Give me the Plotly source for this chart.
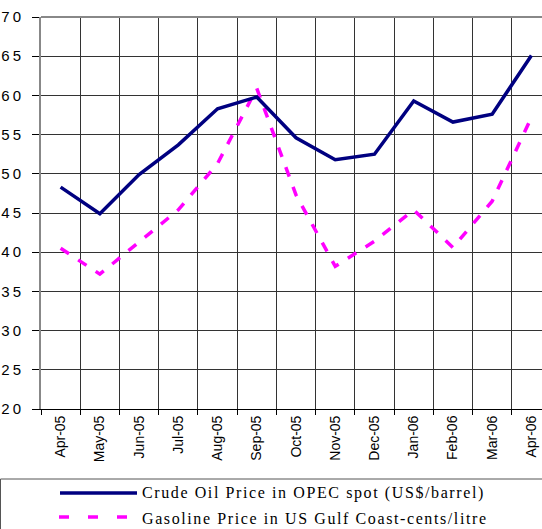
import plotly.graph_objects as go

months = ["Apr-05", "May-05", "Jun-05", "Jul-05", "Aug-05", "Sep-05", "Oct-05",
          "Nov-05", "Dec-05", "Jan-06", "Feb-06", "Mar-06", "Apr-06"]
crude_oil = [48.3, 44.9, 49.9, 53.7, 58.3, 59.8, 54.6, 51.8, 52.5, 59.3, 56.6, 57.6, 65.1]
gasoline = [40.5, 37.2, 41.3, 45.4, 51.3, 60.9, 47.3, 38.2, 41.4, 45.4, 40.6, 46.5, 57.2]
crude_name = "Crude Oil Price in OPEC spot (US$/barrel)"
gas_name = "Gasoline Price in US Gulf Coast-cents/litre"
y_ticks = [20, 25, 30, 35, 40, 45, 50, 55, 60, 65, 70]

W, H = 542, 529
L, T, B = 41, 17, 120
plot_w = W - L
plot_h = H - T - B

def px_x(px):
    return (px - L) / plot_w

def px_y(py):
    return (H - B - py) / plot_h

fig = go.Figure()
fig.add_trace(go.Scatter(x=months, y=gasoline, mode="lines", name=gas_name,
                         line=dict(color="#FF00FF", width=3.5, dash="10px,11px"),
                         showlegend=False))
fig.add_trace(go.Scatter(x=months, y=crude_oil, mode="lines", name=crude_name,
                         line=dict(color="#000080", width=3.5),
                         showlegend=False))

shapes = [
    dict(type="rect", xref="paper", yref="paper", x0=px_x(0.5), x1=px_x(545),
         y0=px_y(479), y1=px_y(535), line=dict(color="#555555", width=1),
         fillcolor="rgba(0,0,0,0)"),
    dict(type="line", xref="paper", yref="paper", x0=px_x(60), x1=px_x(137),
         y0=px_y(493), y1=px_y(493), line=dict(color="#000080", width=3.5)),
    dict(type="line", xref="paper", yref="paper", x0=px_x(59), x1=px_x(127),
         y0=px_y(517), y1=px_y(517),
         line=dict(color="#FF00FF", width=3.5, dash="10px,19px")),
    dict(type="line", xref="paper", yref="paper", x0=0, x1=1,
         y0=1, y1=1, line=dict(color="#888888", width=2)),
]
annotations = [
    dict(xref="paper", yref="paper", x=px_x(140), y=px_y(493), text=crude_name,
         showarrow=False, xanchor="left", yanchor="middle", align="left",
         font=dict(family="Liberation Serif", size=16, color="#000000")),
    dict(xref="paper", yref="paper", x=px_x(140), y=px_y(518), text=gas_name,
         showarrow=False, xanchor="left", yanchor="middle", align="left",
         font=dict(family="Liberation Serif", size=16, color="#000000")),
]

fig.update_layout(
    width=W, height=H,
    margin=dict(l=L, r=0, t=T, b=B, pad=0),
    paper_bgcolor="white", plot_bgcolor="white",
    shapes=shapes, annotations=annotations,
    showlegend=False,
)
fig.update_xaxes(type="category", range=[-0.5, 12.27], tickson="boundaries",
                 showgrid=True, gridcolor="#333333", gridwidth=1,
                 ticks="outside", ticklen=5, tickcolor="#000000",
                 showline=True, linecolor="#000000", linewidth=1,
                 tickangle=-90,
                 tickfont=dict(family="Liberation Sans", size=14, color="#000000"))
fig.update_yaxes(range=[20, 70], tickvals=y_ticks,
                 showgrid=True, gridcolor="#333333", gridwidth=1,
                 ticks="outside", ticklen=7, tickcolor="#000000",
                 showline=True, linecolor="#888888", linewidth=2,
                 zeroline=False, ticklabelstandoff=5,
                 tickfont=dict(family="Liberation Sans", size=15, color="#000000"))

post = (
    "document.body.style.margin='0';"
    "document.body.style.overflow='hidden';"
    "var s=document.createElement('style');"
    "s.textContent='.annotation-text{letter-spacing:1.6px}.ytick text{letter-spacing:3px}';"
    "document.head.appendChild(s);"
)
fig.write_html("out.html", post_script=post, config={"displayModeBar": False})
